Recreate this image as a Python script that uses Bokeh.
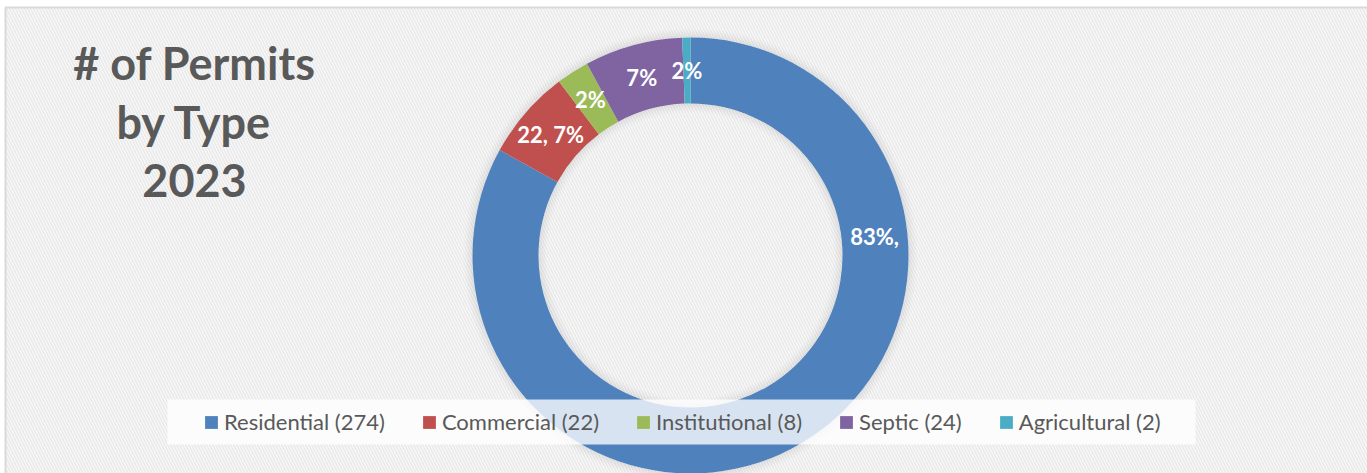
import numpy as np
from bokeh.plotting import figure
from bokeh.models import Range1d, Legend, LegendItem, ColumnDataSource
from bokeh.core.properties import value
from bokeh.embed import file_html
from bokeh.resources import INLINE

# ---- data ----
categories = ["Residential", "Commercial", "Institutional", "Septic", "Agricultural"]
counts = [274, 22, 8, 24, 2]
slice_labels = ["83%,", "22, 7%", "2%", "7%", "2%"]
title_lines = ["# of Permits", "by Type", "2023"]

# ---- styles / layout ----
colors = ["#4f81bd", "#c0504d", "#9bbb59", "#8064a2", "#4bacc6"]
W, H = 1367, 473
CX, CY = 690, H - 255
R_OUT, R_IN = 218, 152
LABEL_R = (R_OUT + R_IN) / 2
label_angle_override = {"Residential": 84.0}  # degrees clockwise from top (label moved)
GRAY = "#595959"

p = figure(width=W, height=H, x_range=Range1d(0, W), y_range=Range1d(0, H),
           output_backend="svg", toolbar_location=None, min_border=0,
           outline_line_color=None, background_fill_color="white",
           border_fill_color="white", x_axis_type=None, y_axis_type=None)
p.grid.visible = False

# hatched chart area + border
p.quad(left=5, right=W + 20, bottom=-20, top=H - 7, fill_color="white",
       hatch_pattern="left_diagonal_line", hatch_color="#ebebeb",
       hatch_scale=6, hatch_weight=2, line_color=None)
p.line(x=[5, 5, W + 20], y=[-20, H - 7, H - 7], line_color="#d9d9d9", line_width=2)

# soft shadow around ring
for k in range(10):
    a = 0.16 * (1 - k / 10) ** 1.5
    p.annulus(x=CX, y=CY, inner_radius=R_OUT + k, outer_radius=R_OUT + k + 1,
              fill_color="#808080", fill_alpha=a, line_color=None)
    p.annulus(x=CX, y=CY, inner_radius=R_IN - k - 1, outer_radius=R_IN - k,
              fill_color="#808080", fill_alpha=a, line_color=None)

# donut
total = float(sum(counts))
cum = np.concatenate([[0], np.cumsum(counts)]) / total
start = np.pi / 2 - 2 * np.pi * cum[:-1]
end = np.pi / 2 - 2 * np.pi * cum[1:]
src = ColumnDataSource(dict(start=start, end=end, color=colors, cat=categories))
wedges = p.annular_wedge(x=CX, y=CY, inner_radius=R_IN, outer_radius=R_OUT,
                         start_angle="start", end_angle="end", direction="clock",
                         fill_color="color", line_color=None, source=src)

# data labels
mid_cw = 360 * (cum[:-1] + cum[1:]) / 2  # degrees clockwise from top
lx, ly = [], []
for cat, m in zip(categories, mid_cw):
    ang = np.radians(label_angle_override.get(cat, m))
    lx.append(CX + LABEL_R * np.sin(ang))
    ly.append(CY + LABEL_R * np.cos(ang))
p.text(x=lx, y=ly, text=slice_labels, text_align="center", text_baseline="middle",
       text_font=value("Lato"), text_font_style="bold", text_font_size="22px",
       text_color="white")

# title
ty = [H - 62 - 59 * i for i in range(len(title_lines))]
p.text(x=[194] * len(title_lines), y=ty, text=title_lines, text_align="center",
       text_baseline="middle", text_font=value("Lato"), text_font_style="bold",
       text_font_size="45px", text_color=GRAY)

# legend backdrop
p.quad(left=167, right=1195, top=H - 399, bottom=H - 444, fill_color="white",
       fill_alpha=0.78, line_color=None)

items = [LegendItem(label=f"{c} ({n})", renderers=[wedges], index=i)
         for i, (c, n) in enumerate(zip(categories, counts))]
legend = Legend(items=items, orientation="horizontal", location=(203, H - 435),
                glyph_width=16, glyph_height=16, label_standoff=5, spacing=36,
                padding=0, margin=0, background_fill_alpha=0, border_line_alpha=0,
                label_text_font="Lato", label_text_font_size="22px",
                label_text_color=GRAY, label_height=20)
p.add_layout(legend)

open("out.html", "w").write(file_html(p, INLINE))
